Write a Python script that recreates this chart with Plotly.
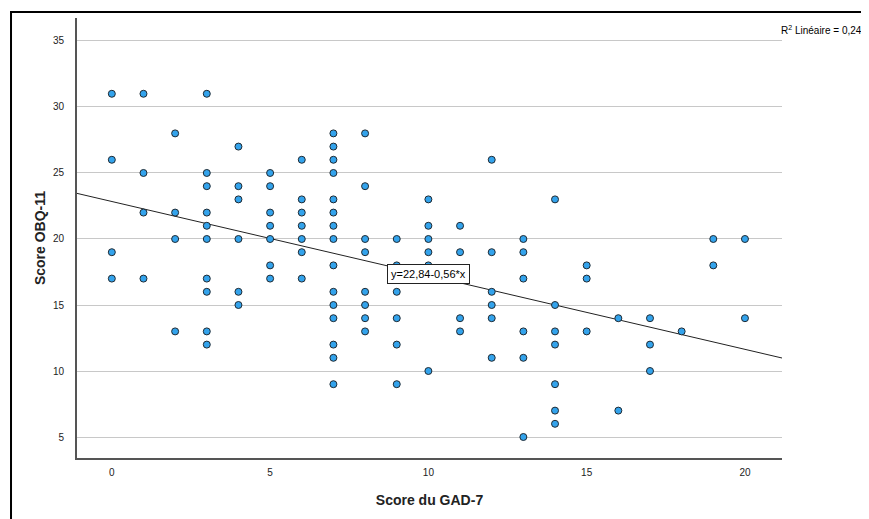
import plotly.graph_objects as go

# GAD-7 score (x) and OBQ-11 score (y), read column by column
gad7 = ([0]*4 + [1]*4 + [2]*4 + [3]*10 + [4]*6 + [5]*7 + [6]*7 + [7]*15 + [8]*8 +
        [9]*6 + [10]*6 + [11]*4 + [12]*6 + [13]*6 + [14]*7 + [15]*3 + [16]*2 +
        [17]*3 + [18]*1 + [19]*2 + [20]*2)
obq11 = ([31, 26, 19, 17] +
         [31, 25, 22, 17] +
         [28, 22, 20, 13] +
         [31, 25, 24, 22, 21, 20, 17, 16, 13, 12] +
         [27, 24, 23, 20, 16, 15] +
         [25, 24, 22, 21, 20, 18, 17] +
         [26, 23, 22, 21, 20, 19, 17] +
         [28, 27, 26, 25, 23, 22, 21, 20, 18, 16, 15, 14, 12, 11, 9] +
         [28, 24, 20, 19, 16, 15, 14, 13] +
         [20, 18, 16, 14, 12, 9] +
         [23, 21, 20, 19, 18, 10] +
         [21, 19, 14, 13] +
         [26, 19, 16, 15, 14, 11] +
         [20, 19, 17, 13, 11, 5] +
         [23, 15, 13, 12, 9, 7, 6] +
         [18, 17, 13] +
         [14, 7] +
         [14, 12, 10] +
         [13] +
         [20, 18] +
         [20, 14])

intercept = 22.84
slope = -0.56
r2 = 0.24

x_ticks = [0, 5, 10, 15, 20]
y_ticks = [5, 10, 15, 20, 25, 30, 35]

x_range = [-1.1, 21.17]
y_range = [3.41, 36.74]

font = "Liberation Sans, Arial, sans-serif"

fig = go.Figure()

fit_x = x_range
fit_y = [intercept + slope * v for v in fit_x]
fig.add_trace(go.Scatter(x=fit_x, y=fit_y, mode="lines",
                         line=dict(color="#222222", width=1),
                         hoverinfo="skip", showlegend=False))

fig.add_trace(go.Scatter(x=gad7, y=obq11, mode="markers",
                         marker=dict(size=7, color="#33a3ec",
                                     line=dict(color="#1f2a33", width=1)),
                         showlegend=False))

def fr(v):
    return f"{v:.2f}".replace(".", ",")

fig.add_annotation(x=10, y=17.35, xref="x", yref="y",
                   text=f"y={fr(intercept)}-{fr(abs(slope))}*x",
                   showarrow=False, bgcolor="white", bordercolor="#222222",
                   borderwidth=1, borderpad=3,
                   font=dict(family=font, size=11, color="black"))

fig.add_annotation(x=1.0, y=1.0, xref="paper", yref="paper",
                   xanchor="left", yanchor="middle", xshift=-3, yshift=-12,
                   text=f"R<sup>2</sup> Linéaire = {fr(r2)}",
                   showarrow=False,
                   font=dict(family=font, size=10, color="black"))

# outer frame
fig.add_shape(type="rect", xref="paper", yref="paper",
              x0=-0.0936, y0=-0.3, x1=1.3, y1=1.0136,
              line=dict(color="black", width=2), fillcolor="rgba(0,0,0,0)",
              layer="below")

fig.update_layout(
    width=861, height=511,
    margin=dict(l=69, r=87, t=10, b=61),
    paper_bgcolor="white", plot_bgcolor="white",
    font=dict(family=font, size=10, color="#222222"),
    showlegend=False,
    xaxis=dict(range=x_range, tickvals=x_ticks, showgrid=False, zeroline=False,
               showline=True, linecolor="#555555", linewidth=2, ticks="",
               ticklabelstandoff=4,
               tickfont=dict(family=font, size=10, color="#222222"),
               title=dict(text="Score du GAD-7", standoff=18,
                          font=dict(family=font, size=14, color="#222222", weight="bold"))),
    yaxis=dict(range=y_range, tickvals=y_ticks, showgrid=True, gridcolor="#c8c8c8",
               gridwidth=1, zeroline=False,
               showline=True, linecolor="#555555", linewidth=2, ticks="",
               ticklabelstandoff=9,
               tickfont=dict(family=font, size=10, color="#222222"),
               title=dict(text="Score OBQ-11", standoff=4,
                          font=dict(family=font, size=14, color="#222222", weight="bold"))),
)

fig.write_html("out.html")
